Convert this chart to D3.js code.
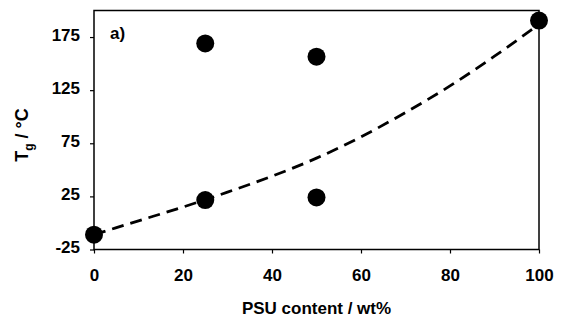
<!DOCTYPE html>
<html>
<head>
<meta charset="utf-8">
<script src="https://cdn.jsdelivr.net/npm/d3@7"></script>
<style>
  body { margin: 0; background: #fff; }
  svg text { font-family: "Liberation Sans", Arial, sans-serif; font-weight: bold; fill: #000; }
</style>
</head>
<body>
<svg id="chart"></svg>
<script>
// measured points (PSU wt%, Tg)
const psuContent = [0, 25, 25, 50, 50, 100]
const tgValues = [-11, 21.5, 169, 24, 156.5, 190.5]

// dashed fit line
const fitX = [0, 10, 20, 30, 40, 50, 60, 70, 80, 90, 100]
const fitY = [-11, 2, 15, 29, 44, 61, 81, 104, 129, 157, 187]

const xTicks = [0, 20, 40, 60, 80, 100]
const yTicks = [-25, 25, 75, 125, 175]

const W = 569, H = 323
const margin = {top: 10.5, right: 30, bottom: 73.5, left: 94}
const width = W - margin.left - margin.right
const height = H - margin.top - margin.bottom

const svg = d3.select("#chart").attr("width", W).attr("height", H)
const g = svg.append("g").attr("transform", `translate(${margin.left},${margin.top})`)

const xScale = d3.scaleLinear().domain([0, 100]).range([0, width])
const yScale = d3.scaleLinear().domain([-25, 200]).range([height, 0])

// frame
g.append("rect")
    .attr("width", width).attr("height", height)
    .attr("fill", "none").attr("stroke", "#000").attr("stroke-width", 1.5)

const xAxis = g.append("g")
    .attr("transform", `translate(0,${height})`)
    .call(d3.axisBottom(xScale).tickValues(xTicks).tickFormat(d => String(d)).tickSize(4).tickPadding(15))
const yAxis = g.append("g")
    .call(d3.axisLeft(yScale).tickValues(yTicks).tickFormat(d => String(d)).tickSize(4).tickPadding(10))

xAxis.select(".domain").remove()
yAxis.select(".domain").remove()
xAxis.selectAll("line").attr("stroke-width", 1.2)
yAxis.selectAll("line").attr("stroke-width", 1.2)
xAxis.selectAll("text").style("font-size", "17px").attr("fill", "#000")
yAxis.selectAll("text").style("font-size", "17px").attr("fill", "#000").attr("dy", "0.2em")

// fit curve
const line = d3.line()
    .x((d, i) => xScale(fitX[i]))
    .y(d => yScale(d))
    .curve(d3.curveMonotoneX)

g.append("path")
    .datum(fitY)
    .attr("d", line)
    .attr("fill", "none")
    .attr("stroke", "#000")
    .attr("stroke-width", 2.8)
    .attr("stroke-dasharray", "12,7")

// points
g.selectAll(".pt")
    .data(psuContent)
    .join("circle")
    .attr("class", "pt")
    .attr("cx", d => xScale(d))
    .attr("cy", (d, i) => yScale(tgValues[i]))
    .attr("r", 9)
    .attr("fill", "#000")

// panel label
g.append("text")
    .attr("x", 16).attr("y", 28)
    .style("font-size", "17px")
    .text("a)")

// axis titles
svg.append("text")
    .attr("x", margin.left + width / 2)
    .attr("y", 314)
    .attr("text-anchor", "middle")
    .style("font-size", "17px")
    .text("PSU content / wt%")

const yTitle = svg.append("text")
    .attr("transform", `translate(28,135) rotate(-90)`)
    .attr("text-anchor", "middle")
    .style("font-size", "18px")
yTitle.append("tspan").text("T")
yTitle.append("tspan").attr("dy", 5).style("font-size", "12px").text("g")
yTitle.append("tspan").attr("dy", -5).text(" / °C")
</script>
</body>
</html>
